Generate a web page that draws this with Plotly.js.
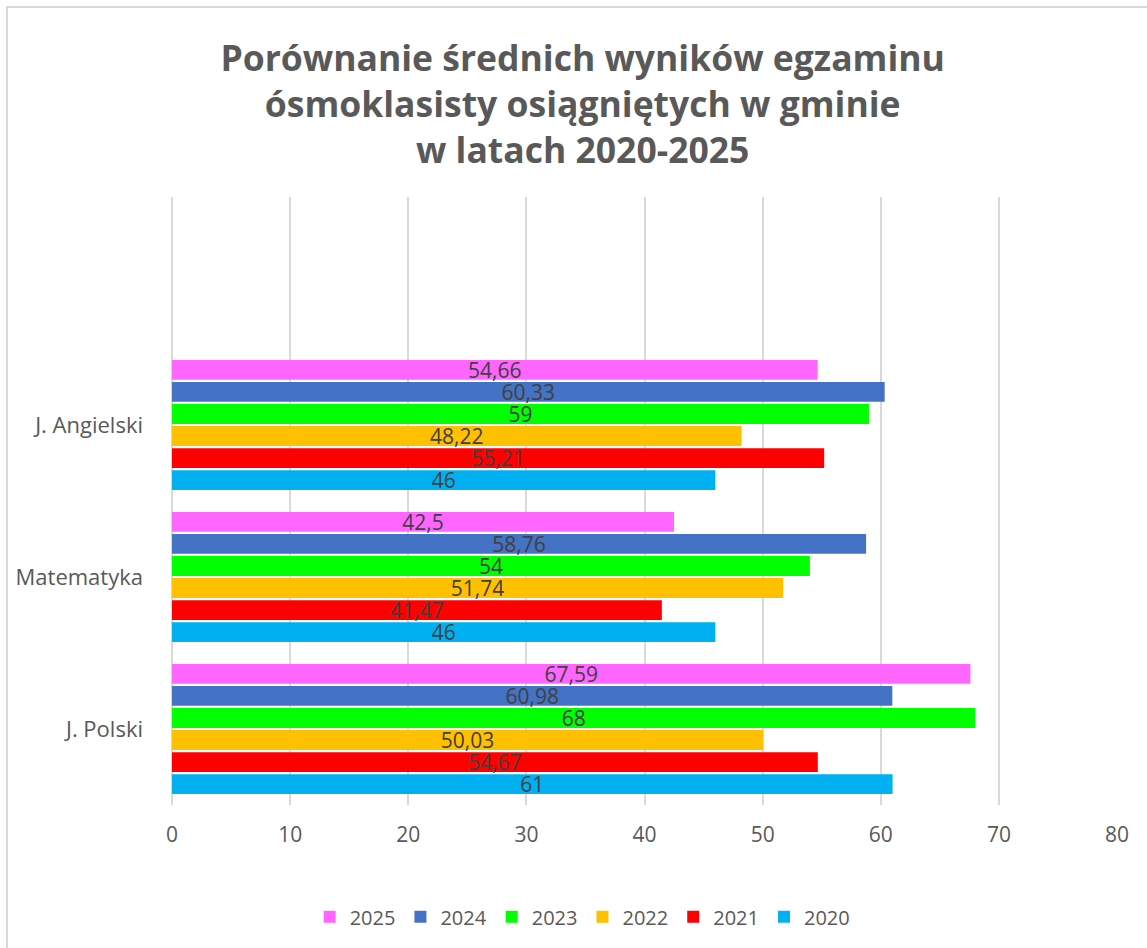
<!DOCTYPE html>
<html>
<head>
<meta charset="utf-8">
<script src="https://cdn.plot.ly/plotly-3.0.1.min.js"></script>
<style>
  html, body { margin: 0; padding: 0; background: #ffffff; }
  #wrap { position: relative; width: 1147px; height: 948px; }
  #chart { width: 1147px; height: 948px; }
  #frame { position: absolute; left: 6px; top: 6px; width: 1160px; height: 960px;
           border-left: 2px solid #d9d9d9; border-top: 2px solid #d9d9d9; pointer-events: none; }
</style>
</head>
<body>
<div id="wrap">
  <div id="chart"></div>
  <div id="frame"></div>
</div>
<script>
// Categories (bottom to top as drawn)
const categories = ["J. Polski", "Matematyka", "J. Angielski"];

// Series values per category [J. Polski, Matematyka, J. Angielski]
const years = ["2020", "2021", "2022", "2023", "2024", "2025"];
const v2020 = [61, 46, 46];
const v2021 = [54.67, 41.47, 55.21];
const v2022 = [50.03, 51.74, 48.22];
const v2023 = [68, 54, 59];
const v2024 = [60.98, 58.76, 60.33];
const v2025 = [67.59, 42.5, 54.66];

const seriesValues = [v2020, v2021, v2022, v2023, v2024, v2025];
const seriesColors = ["#00B0F0", "#FF0000", "#FFC000", "#00FF00", "#4472C4", "#FF66FF"];

const xTicks = [0, 10, 20, 30, 40, 50, 60, 70, 80];

const fmt = v => String(v).replace(".", ",");

const traces = years.map((yr, i) => ({
  type: "bar",
  orientation: "h",
  name: yr,
  y: categories,
  x: seriesValues[i],
  marker: { color: seriesColors[i] },
  text: seriesValues[i].map(fmt),
  textposition: "inside",
  insidetextanchor: "middle",
  textangle: 0,
  constraintext: "none",
  textfont: { family: "Open Sans", size: 21, color: "#404040" },
  hoverinfo: "x+name"
}));

const layout = {
  width: 1147,
  height: 948,
  paper_bgcolor: "#ffffff",
  plot_bgcolor: "#ffffff",
  margin: { l: 172, r: 30, t: 197, b: 143 },
  title: {
    text: "Porównanie średnich wyników egzaminu<br>ósmoklasisty osiągniętych w gminie<br>w latach 2020-2025",
    font: { family: "Open Sans", size: 35.5, color: "#595959", weight: "bold" },
    x: 0.508, xref: "container", xanchor: "center",
    y: 0.925, yref: "container", yanchor: "top"
  },
  barmode: "group",
  bargap: 0.13,
  bargroupgap: 0.1,
  xaxis: {
    range: [0, 80],
    tickvals: xTicks,
    ticktext: xTicks.map(String),
    showgrid: true,
    gridcolor: "#d9d9d9",
    gridwidth: 1.5,
    zeroline: true,
    zerolinecolor: "#d9d9d9",
    zerolinewidth: 1.5,
    showline: false,
    ticks: "",
    ticklabelstandoff: 15,
    tickfont: { family: "Open Sans", size: 21, color: "#595959" },
    fixedrange: true
  },
  yaxis: {
    type: "category",
    categoryorder: "array",
    categoryarray: categories,
    range: [-0.5, 3.5],
    showgrid: false,
    zeroline: false,
    showline: false,
    ticks: "",
    ticklabelstandoff: 28,
    tickfont: { family: "Open Sans", size: 22, color: "#595959" },
    fixedrange: true
  },
  showlegend: true,
  legend: {
    orientation: "h",
    traceorder: "reversed",
    x: 0.508, xref: "container", xanchor: "center",
    y: 0.033, yref: "container", yanchor: "middle",
    font: { family: "Open Sans", size: 20, color: "#595959" },
    itemclick: false,
    itemdoubleclick: false
  },
  hovermode: false
};

Plotly.newPlot("chart", traces, layout, { displayModeBar: false });
</script>
</body>
</html>
